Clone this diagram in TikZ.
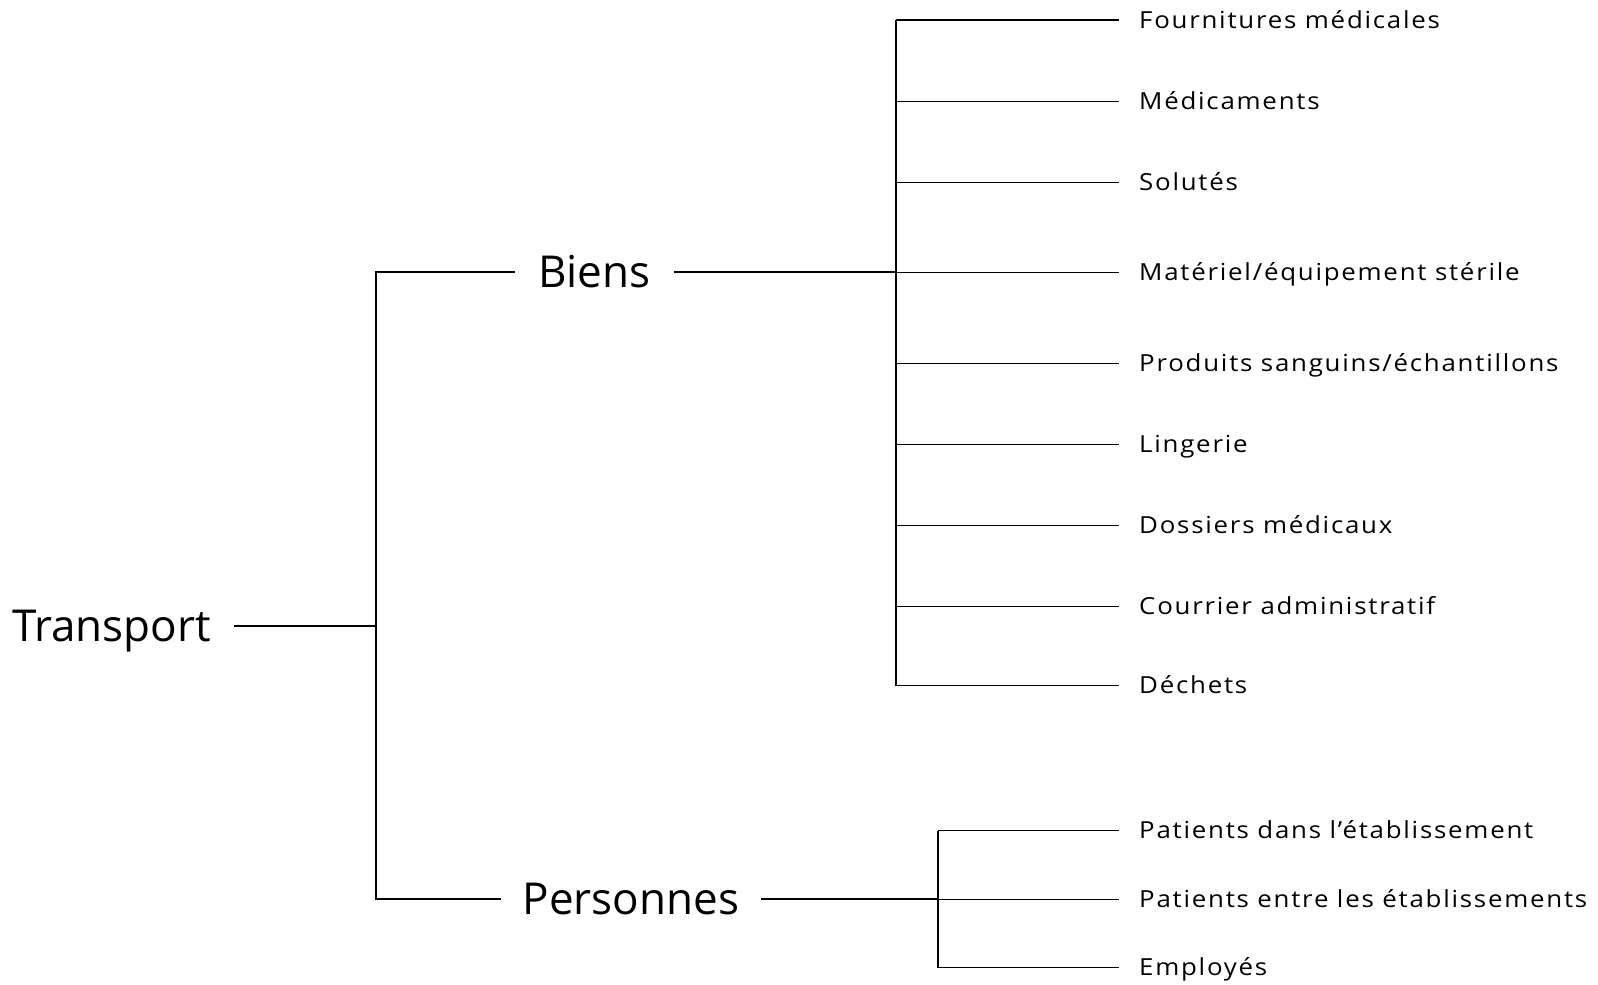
\documentclass[tikz,border=0pt]{standalone}
\usepackage{fontspec}
\setmainfont{Open Sans}
\newfontfamily\leaffont[FakeStretch=1.1,LetterSpace=7.5]{Open Sans}
\begin{document}
\begin{tikzpicture}[x=1pt,y=-1pt,
  big/.style={font=\fontsize{44}{52}\selectfont, inner sep=0pt, inner xsep=23pt, text height=31pt, text depth=0pt},
  leaf/.style={font=\leaffont\fontsize{23.5}{28}\selectfont, inner sep=0pt, inner xsep=20pt, anchor=west, text height=16.8pt, text depth=0pt},
  conn/.style={line width=1.8pt, black},
  thick conn/.style={line width=2.6pt, black}]
\useasboundingbox (0,0) rectangle (1598,985);
% main nodes
\node[big, anchor=west] (T) at (-11,626) {Transport};
\node[big] (B) at (594.5,272) {Biens};
\node[big, inner xsep=22pt] (P) at (631,899) {Personnes};
\coordinate (jT) at (376,626);
\coordinate (jB) at (896,272);
\coordinate (jP) at (938,899);
% leaves of Biens
\node[leaf] (L1) at (1119,20) {Fournitures médicales};
\node[leaf] (L2) at (1119,101.5) {Médicaments};
\node[leaf] (L3) at (1119,182.5) {Solutés};
\node[leaf] (L4) at (1119,272.5) {Matériel/équipement stérile};
\node[leaf] (L5) at (1119,363.5) {Produits sanguins/échantillons};
\node[leaf] (L6) at (1119,444.5) {Lingerie};
\node[leaf] (L7) at (1119,525.5) {Dossiers médicaux};
\node[leaf] (L8) at (1119,606.5) {Courrier administratif};
\node[leaf] (L9) at (1119,685.5) {Déchets};
% leaves of Personnes
\node[leaf] (M1) at (1119,830.5) {Patients dans l’établissement};
\node[leaf] (M2) at (1119,899.5) {Patients entre les établissements};
\node[leaf] (M3) at (1119,967.5) {Employés};
% connectors
\draw[conn] (T.east) -- (jT);
\draw[conn] (B.west) -| (jT) |- (P.west);
\draw[thick conn] (B.east) -- (jB);
\draw[conn] (jB |- L1.west) -- (jB |- L9.west);
\foreach \n in {L1,L2,L3,L4,L5,L6,L7,L8,L9}
  \draw[conn] (jB |- \n.west) -- (\n.west);
\draw[thick conn] (P.east) -- (jP);
\draw[conn] (jP |- M1.west) -- (jP |- M3.west);
\foreach \n in {M1,M2,M3}
  \draw[conn] (jP |- \n.west) -- (\n.west);
\end{tikzpicture}
\end{document}
